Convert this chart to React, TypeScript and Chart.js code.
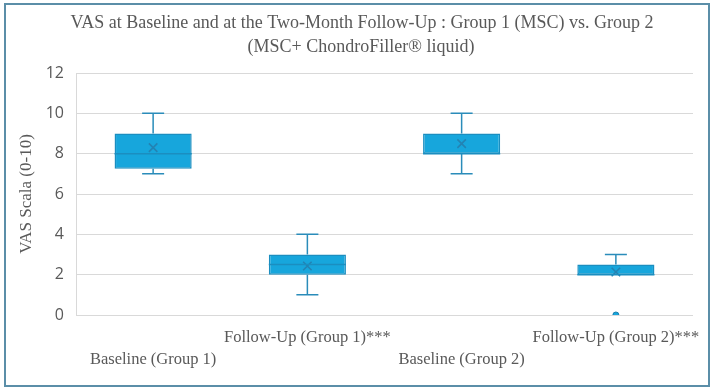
import React, { useEffect, useRef } from "react";
import { Chart, registerables } from "chart.js";

Chart.register(...registerables);

const categories = [
  "Baseline (Group 1)",
  "Follow-Up (Group 1)***",
  "Baseline (Group 2)",
  "Follow-Up (Group 2)***",
];
const whiskerMin = [7, 1, 7, 2];
const q1 = [7.25, 2, 8, 2];
const median = [8, 2.5, 8, 2];
const q3 = [9, 3, 9, 2.5];
const whiskerMax = [10, 4, 10, 3];
const means = [8.3, 2.43, 8.5, 2.13];
const outliers: (number | null)[] = [null, null, null, 0];
const yTicks = [0, 2, 4, 6, 8, 10, 12];

const titleLines = [
  "VAS at Baseline and at the Two-Month Follow-Up : Group 1 (MSC) vs. Group 2",
  "(MSC+ ChondroFiller\u00AE liquid)",
];
const yTitle = "VAS Scala (0-10)";

const SERIF = "'Liberation Serif', 'Times New Roman', serif";
const TEXT = "#595959";
const BOX_FILL = "#17A6DC";
const BOX_LINE = "#1B8EC0";
const WHISKER = "#2A8CBA";

const boxPlugin = {
  id: "boxExtras",
  beforeDraw(chart: any) {
    const ctx = chart.ctx;
    ctx.save();
    ctx.fillStyle = "#ffffff";
    ctx.fillRect(0, 0, chart.width, chart.height);
    ctx.strokeStyle = "#5B8EA8";
    ctx.lineWidth = 2;
    ctx.strokeRect(5, 4, 704, 382);
    ctx.fillStyle = TEXT;
    ctx.font = `18px ${SERIF}`;
    ctx.textAlign = "center";
    ctx.textBaseline = "middle";
    ctx.fillText(titleLines[0], 362, 23);
    ctx.fillText(titleLines[1], 361, 47);
    ctx.restore();
  },
  afterDatasetsDraw(chart: any) {
    const ctx = chart.ctx;
    const xs = chart.scales.x;
    const ys = chart.scales.y;
    ctx.save();
    ctx.lineWidth = 1.5;
    categories.forEach((_, i) => {
      const x = xs.getPixelForValue(i);
      const cap = 11;
      const yMax = ys.getPixelForValue(whiskerMax[i]);
      const yQ3 = ys.getPixelForValue(q3[i]);
      const yQ1 = ys.getPixelForValue(q1[i]);
      const yMin = ys.getPixelForValue(whiskerMin[i]);
      ctx.strokeStyle = WHISKER;
      ctx.beginPath();
      if (whiskerMax[i] > q3[i]) {
        ctx.moveTo(x, yQ3);
        ctx.lineTo(x, yMax);
        ctx.moveTo(x - cap, yMax);
        ctx.lineTo(x + cap, yMax);
      }
      if (whiskerMin[i] < q1[i]) {
        ctx.moveTo(x, yQ1);
        ctx.lineTo(x, yMin);
        ctx.moveTo(x - cap, yMin);
        ctx.lineTo(x + cap, yMin);
      }
      ctx.stroke();
      const bar = chart.getDatasetMeta(0).data[i];
      const half = bar.width / 2;
      const yMed = ys.getPixelForValue(median[i]);
      ctx.strokeStyle = BOX_LINE;
      ctx.beginPath();
      ctx.moveTo(x - half, yMed);
      ctx.lineTo(x + half, yMed);
      ctx.stroke();
    });
    ctx.restore();
  },
};

export default function App() {
  const ref = useRef<HTMLCanvasElement>(null);
  useEffect(() => {
    if (!ref.current) return;
    const chart = new Chart(ref.current, {
      type: "bar",
      data: {
        labels: categories.map((c, i) => (i % 2 === 0 ? ["", c] : [c, ""])),
        datasets: [
          {
            type: "bar",
            data: categories.map((_, i) => [q1[i], q3[i]]) as any,
            backgroundColor: BOX_FILL,
            borderColor: BOX_LINE,
            borderWidth: 1.5,
            borderSkipped: false,
            barPercentage: 0.5,
            categoryPercentage: 1,
            order: 3,
          } as any,
          {
            type: "line",
            data: means,
            showLine: false,
            pointStyle: "crossRot",
            pointRadius: 6,
            pointBorderWidth: 1.6,
            borderColor: "#2383B3",
            backgroundColor: "#2383B3",
            order: 1,
          } as any,
          {
            type: "line",
            data: outliers,
            showLine: false,
            pointStyle: "circle",
            pointRadius: 3,
            pointBorderWidth: 1,
            borderColor: "#1A7FAE",
            backgroundColor: BOX_FILL,
            order: 0,
          } as any,
        ],
      },
      options: {
        responsive: false,
        animation: false,
        layout: { padding: { left: 0, right: 20, top: 73, bottom: 0 } },
        plugins: {
          legend: { display: false },
          tooltip: { enabled: false },
          title: { display: false },
        },
        scales: {
          x: {
            grid: { display: false },
            border: { display: false },
            ticks: {
              color: TEXT,
              font: { family: SERIF, size: 16.5, lineHeight: 1.3 },
              padding: 4,
              maxRotation: 0,
              autoSkip: false,
            },
            afterFit(scale: any) {
              scale.height = 75;
            },
          },
          y: {
            min: 0,
            max: 12,
            afterBuildTicks(scale: any) {
              scale.ticks = yTicks.map((v) => ({ value: v }));
            },
            grid: { color: "#D9D9D9", lineWidth: 1, drawTicks: false },
            border: { display: true, color: "#D9D9D9" },
            ticks: {
              color: TEXT,
              font: { family: "'Open Sans', sans-serif", size: 16 },
              padding: 12,
            },
            title: {
              display: true,
              text: yTitle,
              color: TEXT,
              font: { family: SERIF, size: 17 },
              padding: { top: 16, bottom: 0 },
            },
            afterFit(scale: any) {
              scale.width = 76;
            },
          },
        },
      },
      plugins: [boxPlugin],
    });
    return () => chart.destroy();
  }, []);
  return (
    <div style={{ position: "absolute", left: 0, top: 0, width: 713, height: 390 }}>
      <canvas ref={ref} width={713} height={390} style={{ width: 713, height: 390, display: "block" }} />
    </div>
  );
}
